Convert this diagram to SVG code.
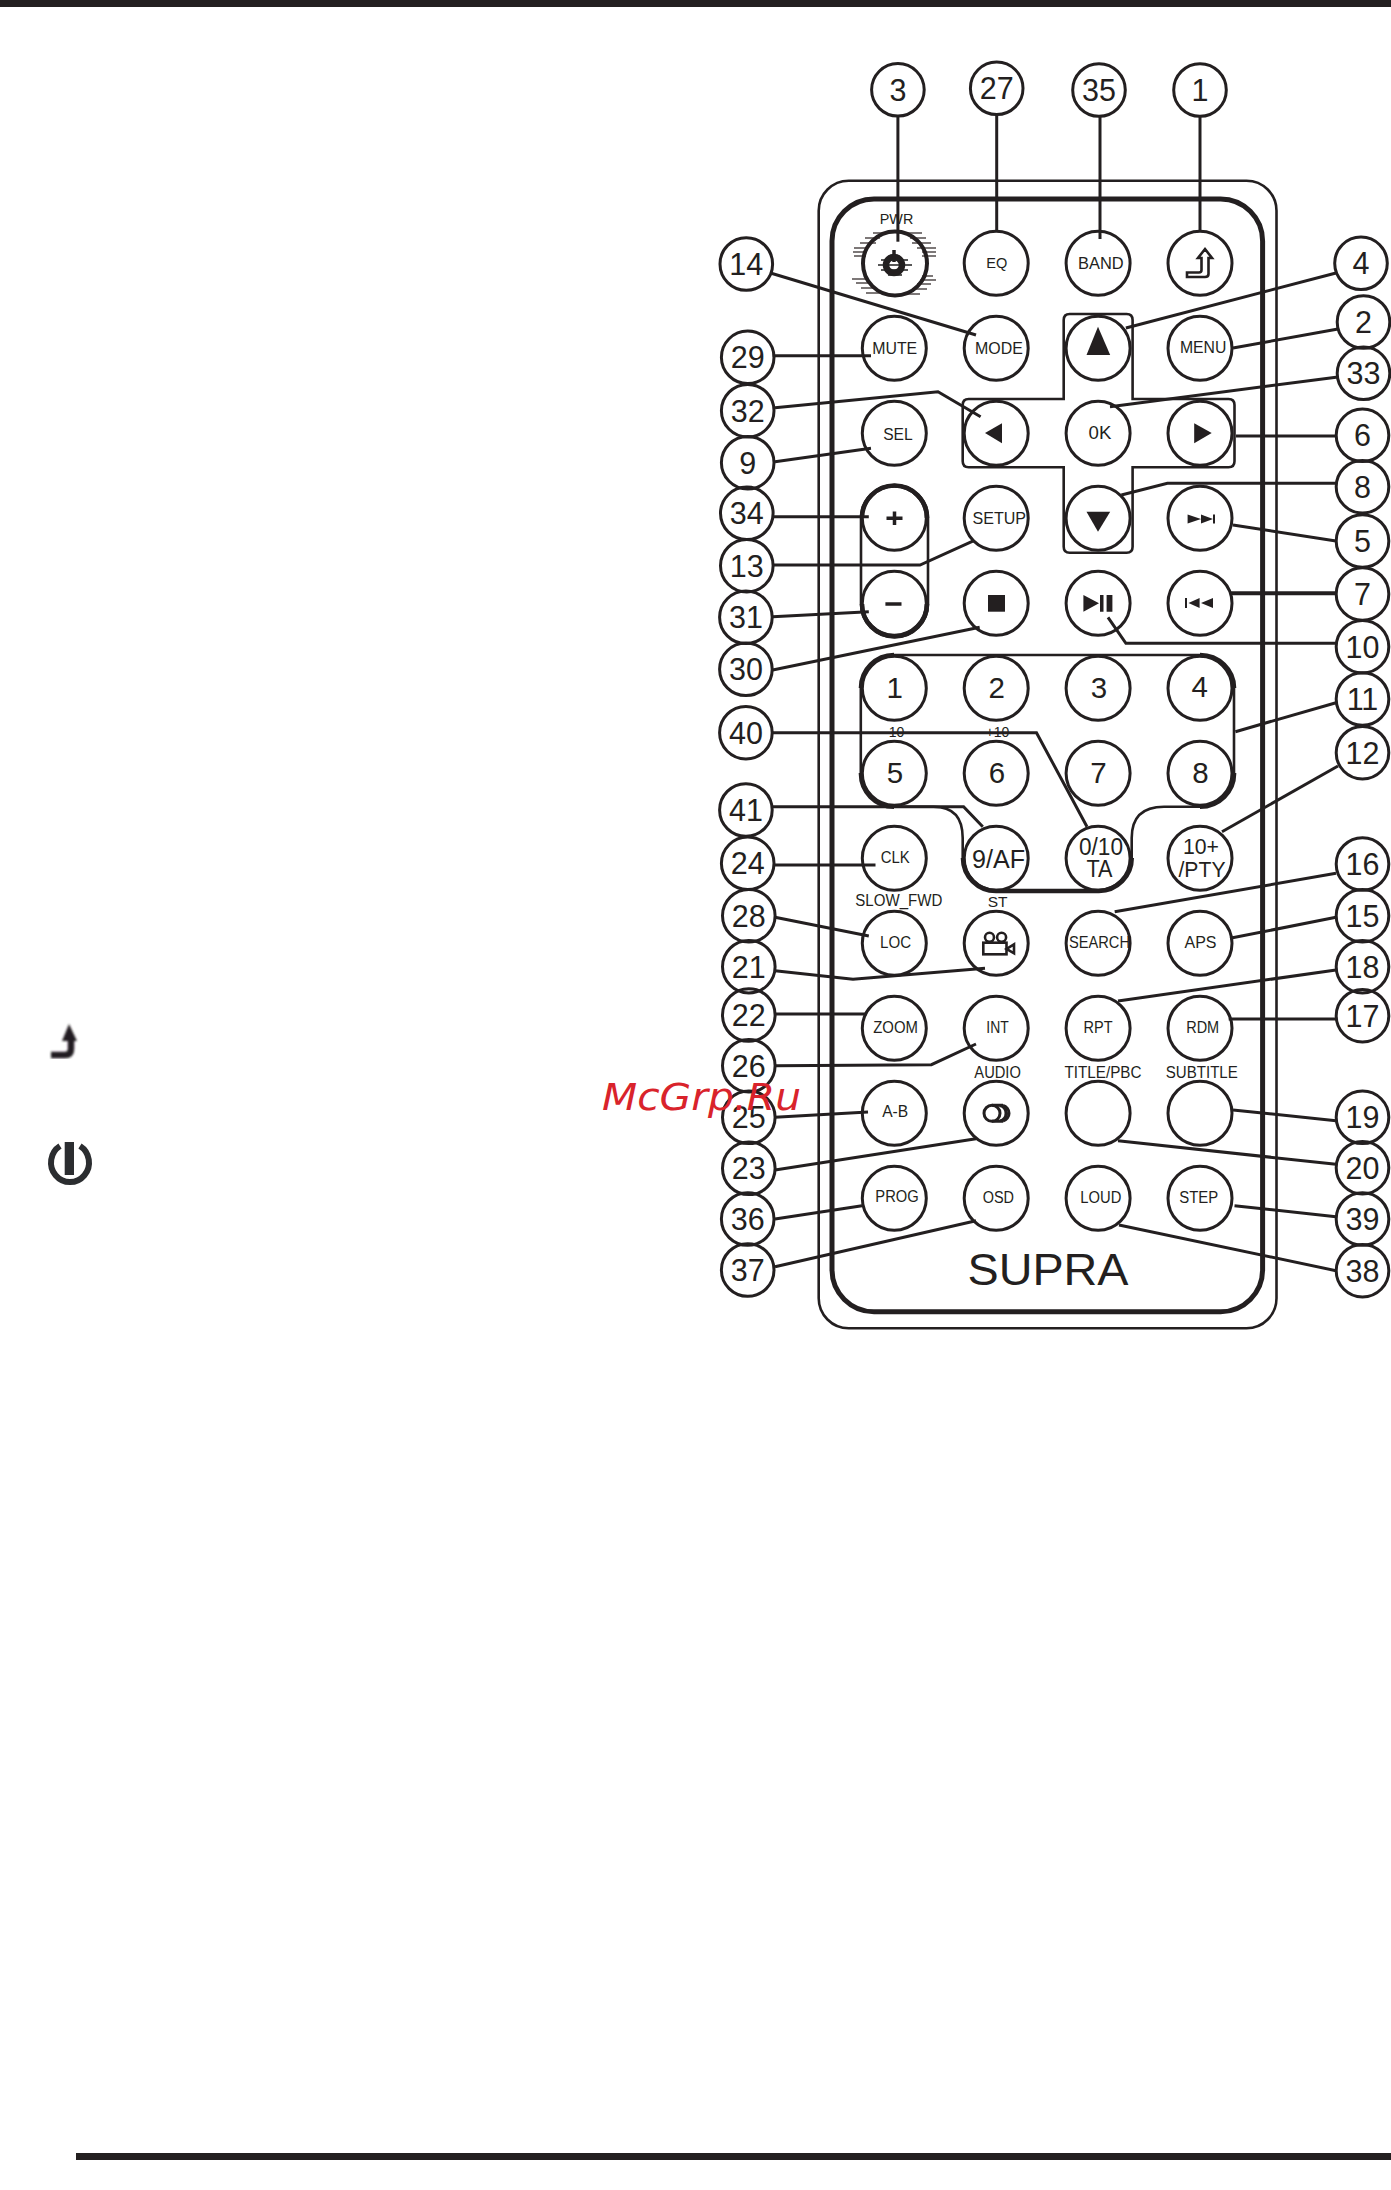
<svg xmlns="http://www.w3.org/2000/svg" width="1391" height="2190" viewBox="0 0 1391 2190">
<style>
text{font-family:"Liberation Sans",Arial,sans-serif;fill:#231f20;text-anchor:middle}
.o{fill:none;stroke:#231f20;stroke-width:3}
.b{fill:none;stroke:#231f20;stroke-width:3}
.t{fill:none;stroke:#231f20;stroke-width:2.6}
.k{fill:none;stroke:#231f20;stroke-width:4.6}
.c{font-size:30.500px}
.d{font-size:29.500px}
.f{fill:#231f20;stroke:none}
#connectors path{fill:none;stroke:#231f20;stroke-width:3}
</style>
<defs>
<circle id="btn" r="32" class="b"/>
<circle id="call" r="26.300" class="o"/>
<filter id="soft"><feGaussianBlur stdDeviation="0.9"/></filter>
<filter id="jag" x="-30%" y="-30%" width="160%" height="160%"><feGaussianBlur stdDeviation="0.5"/></filter>
</defs>
<rect id="top-bar" x="0" y="0" width="1391" height="7" fill="#231f20"/>
<rect id="bottom-bar" x="76" y="2153" width="1315" height="7" fill="#231f20"/>

<g id="side-arrow" filter="url(#soft)"><path d="M51 1055H65Q71 1055 71 1049V1040" fill="none" stroke="#231f20" stroke-width="6.500"/><path d="M69 1024L77 1041H62Z" fill="#231f20"/></g>
<g id="side-power"><path d="M60 1146A19 19.500 0 1 0 80 1146" fill="none" stroke="#2b2d30" stroke-width="6"/><rect x="64.700" y="1142" width="9.300" height="33" fill="#2b2d30"/></g>

<g id="body">
<rect x="818.700" y="180.700" width="457.800" height="1147.600" rx="30" class="t"/>
<rect x="832" y="199" width="430.600" height="1112.700" rx="42" fill="none" stroke="#231f20" stroke-width="5"/>
<text x="1048" y="1285" textLength="161" lengthAdjust="spacingAndGlyphs" style="font-size:44px">SUPRA</text>
</g>

<g id="dpad-outline"><path class="t" d="M1063.700 399V320q0-6 6-6H1126.600q6 0 6 6V399H1228.500q6 0 6 6V461.300q0 6-6 6H1132.600V546.700q0 6-6 6H1069.700q-6 0-6-6V467.300H968.700q-6 0-6-6V405q0-6 6-6Z"/></g>
<g id="volume-outline"><rect class="t" x="861" y="485" width="67" height="152" rx="33"/><path class="k" d="M862 518A32.500 32.500 0 0 1 927 518"/><path class="k" d="M862 604A32.500 32.500 0 0 0 927 604"/></g>
<g id="keypad-outline"><path class="t" d="M894 655H1200A34 33 0 0 1 1234 688V773A34 33 0 0 1 1200 806.700H1164Q1131.700 806.700 1131.700 838V858A33 33 0 0 1 1099 891H996A33 33 0 0 1 962.700 858V838Q962.700 806.700 933.600 806.700H894A33 33 0 0 1 860.800 773V688A33 33 0 0 1 894 655Z"/>
<path class="k" d="M861 688A33 33 0 0 1 894 655M1200 655A34 33 0 0 1 1234 688M1234 773A34 33 0 0 1 1200 806.700M894 806.700A33 33 0 0 1 861 773M963 858A33 33 0 0 0 996 891H1099A33 33 0 0 0 1131.700 858"/></g>

<g id="connectors">
<path d="M897.900 116V241.700"/><path d="M996.700 115V230"/><path d="M1100 116V239"/><path d="M1200 116V232"/>
<path d="M770.500 273L976 335"/><path d="M1336 273L1125.900 328"/><path d="M1338 329L1233 348"/>
<path d="M772.700 355.700H871"/><path d="M1338 377L1110 406.700"/><path d="M775 407.700L938 391.700L980.600 416.700"/>
<path d="M1236 436H1336"/><path d="M775 461.700L871 448.300"/><path d="M1336 483.300H1167.400L1121.400 495"/>
<path d="M772.700 516.700H868.800"/><path d="M1233 525L1336 541"/><path d="M772.700 565H920L973.900 540.700"/>
<path d="M772.700 616.700L868.800 611.700"/><path d="M1231 593.300H1336" style="stroke-width:4"/><path d="M1336 643.300H1125.900L1108 617.300"/>
<path d="M772.700 670L979.700 627.300"/><path d="M1336 702.700L1235.400 731.700"/><path d="M772.700 732.700H1036.500L1087 826.700"/>
<path d="M1338 766L1222 831.700"/><path d="M772.700 806.700H963.600L982.800 826.700"/><path d="M775 865H875.500"/>
<path d="M1336 873.300L1114.700 911.700"/><path d="M775 917.300L868.800 936"/><path d="M1336 917.300L1230 938.300"/>
<path d="M775 970.700L853 979.300L985 968.300"/><path d="M1336 970L1118 1001"/><path d="M775 1014H866.600"/>
<path d="M1228.700 1019H1336"/><path d="M775 1065.700L931.400 1064.700L976 1044"/><path d="M775 1117.300L868 1112"/>
<path d="M1233 1110L1336 1120.700"/><path d="M775 1170L976 1138.700"/><path d="M1118 1140.700L1336 1164.300"/>
<path d="M775 1219L862 1205.700"/><path d="M1234.500 1205.700L1336 1216.700"/><path d="M775 1266.700L976 1220.700"/><path d="M1119 1225L1336 1270.700"/>
</g>

<g id="btn-pwr"><text x="896.500" y="224" textLength="33.500" lengthAdjust="spacingAndGlyphs" style="font-size:15px">PWR</text>
<circle cx="895" cy="263.500" r="32" fill="none" stroke="#231f20" stroke-width="4"/>
<path filter="url(#jag)" d="M873 233H887M865 238H880M860 243H876M854 248H868M853 252H866M854 256H866M852 279H866M856 283H869M861 288H874M866 293H880M905 233H922M910 238H926M912 243H931M917 248H936M922 252H936M922 256H936M922 276H933M920 280H936M917 284H931M912 289H927M905 294H920" fill="none" stroke="#231f20" stroke-width="1.300" stroke-opacity=".8"/>
<circle cx="894" cy="265" r="8" fill="none" stroke="#231f20" stroke-width="6.500"/>
<path d="M894 250V262" fill="none" stroke="#231f20" stroke-width="3.500"/>
<path filter="url(#jag)" d="M881 260H908M878 265H912M881 270H908M888 275H902" fill="none" stroke="#231f20" stroke-width="1.500"/></g>
<g id="btn-eq"><use href="#btn" x="996.200" y="263.300"/><text x="996.700" y="268.300" textLength="21" lengthAdjust="spacingAndGlyphs" style="font-size:15.500px">EQ</text></g>
<g id="btn-band"><use href="#btn" x="1098.100" y="263.300"/><text x="1100.800" y="269.300" textLength="45.600" lengthAdjust="spacingAndGlyphs" style="font-size:17px">BAND</text></g>
<g id="btn-back"><use href="#btn" x="1200" y="263.300"/><path class="t" d="M1205 249L1212 258H1208.500V274Q1208.500 277 1205 277H1187V272.500H1199Q1201.500 272.500 1201.500 270V258H1198Z"/></g>

<g id="btn-mute"><use href="#btn" x="894.300" y="348.300"/><text x="894.700" y="354" textLength="45" lengthAdjust="spacingAndGlyphs" style="font-size:17px">MUTE</text></g>
<g id="btn-mode"><use href="#btn" x="996.200" y="348.300"/><text x="998.900" y="354" textLength="47.800" lengthAdjust="spacingAndGlyphs" style="font-size:17px">MODE</text></g>
<g id="btn-up"><use href="#btn" x="1098.100" y="348.300"/><path class="f" d="M1098 326.700L1110.200 355H1086.500Z"/></g>
<g id="btn-menu"><use href="#btn" x="1200" y="348.300"/><text x="1203.200" y="353.300" textLength="46.500" lengthAdjust="spacingAndGlyphs" style="font-size:17px">MENU</text></g>

<g id="btn-sel"><use href="#btn" x="894.300" y="433.300"/><text x="897.900" y="440" textLength="29.500" lengthAdjust="spacingAndGlyphs" style="font-size:16.500px">SEL</text></g>
<g id="btn-left"><use href="#btn" x="996.200" y="433.300"/><path class="f" d="M985 433L1002 423.300V443.300Z"/></g>
<g id="btn-ok"><use href="#btn" x="1098.100" y="433.300"/><text x="1100" y="439.300" textLength="22.800" lengthAdjust="spacingAndGlyphs" style="font-size:19px">0K</text></g>
<g id="btn-right"><use href="#btn" x="1200" y="433.300"/><path class="f" d="M1211.700 433L1194.200 423.300V443.300Z"/></g>

<g id="btn-plus"><use href="#btn" x="894.300" y="518.300"/><path d="M886.500 518.300H902.500M894.500 511.500V525" fill="none" stroke="#231f20" stroke-width="3.500"/></g>
<g id="btn-setup"><use href="#btn" x="996.200" y="518.300"/><text x="999.300" y="524" textLength="53.600" lengthAdjust="spacingAndGlyphs" style="font-size:17px">SETUP</text></g>
<g id="btn-down"><use href="#btn" x="1098.100" y="518.300"/><path class="f" d="M1086.500 511.700H1110.200L1098 531.700Z"/></g>
<g id="btn-next"><use href="#btn" x="1200" y="518.300"/><path class="f" d="M1187.600 514.500L1201 519L1187.600 523.500ZM1201 514.500L1213 519L1201 523.500ZM1213 514.500H1215V523.500H1213Z"/></g>

<g id="btn-minus"><use href="#btn" x="894.300" y="603.300"/><path d="M885.400 604H901.500" fill="none" stroke="#231f20" stroke-width="3.500"/></g>
<g id="btn-stop"><use href="#btn" x="996.200" y="603.300"/><rect class="f" x="988" y="595" width="17" height="16.700"/></g>
<g id="btn-play"><use href="#btn" x="1098.100" y="603.300"/><path class="f" d="M1083.400 595L1099 603.300L1083.400 611.700ZM1100 595H1103.500V611.700H1100ZM1106.600 595H1112.400V611.700H1106.600Z"/></g>
<g id="btn-prev"><use href="#btn" x="1200" y="603.300"/><path class="f" d="M1185 598H1187V608H1185ZM1199.600 598L1188.500 603L1199.600 608ZM1213 598L1201 603L1213 608Z"/></g>

<g id="btn-1"><use href="#btn" x="894.300" y="688.300"/><text class="d" x="894.700" y="698">1</text></g>
<g id="btn-2"><use href="#btn" x="996.200" y="688.300"/><text class="d" x="996.800" y="698">2</text></g>
<g id="btn-3"><use href="#btn" x="1098.100" y="688.300"/><text class="d" x="1099" y="698">3</text></g>
<g id="btn-4"><use href="#btn" x="1200" y="688.300"/><text class="d" x="1199.700" y="697">4</text></g>
<g id="btn-5"><text x="896.500" y="736.700" style="font-size:14px">10</text><use href="#btn" x="894.300" y="773.300"/><text class="d" x="895" y="783">5</text></g>
<g id="btn-6"><text x="997.500" y="736.700" style="font-size:14px">+10</text><use href="#btn" x="996.200" y="773.300"/><text class="d" x="997" y="783">6</text></g>
<g id="btn-7"><use href="#btn" x="1098.100" y="773.300"/><text class="d" x="1098.500" y="783">7</text></g>
<g id="btn-8"><use href="#btn" x="1200" y="773.300"/><text class="d" x="1200.500" y="783">8</text></g>

<g id="btn-clk"><use href="#btn" x="894.300" y="858.300"/><text x="895.200" y="862.700" textLength="29" lengthAdjust="spacingAndGlyphs" style="font-size:16px">CLK</text></g>
<g id="btn-9af"><use href="#btn" x="996.200" y="858.300"/><text x="998.500" y="867.700" textLength="53" lengthAdjust="spacingAndGlyphs" style="font-size:25px">9/AF</text></g>
<g id="btn-0ta"><use href="#btn" x="1098.100" y="858.300"/><text x="1101" y="855" textLength="44" lengthAdjust="spacingAndGlyphs" style="font-size:23px">0/10</text><text x="1099.500" y="877.300" textLength="26" lengthAdjust="spacingAndGlyphs" style="font-size:23px">TA</text></g>
<g id="btn-10pty"><use href="#btn" x="1200" y="858.300"/><text x="1201" y="854.300" textLength="36" lengthAdjust="spacingAndGlyphs" style="font-size:22.500px">10+</text><text x="1202" y="877.300" textLength="47" lengthAdjust="spacingAndGlyphs" style="font-size:22.500px">/PTY</text></g>

<g id="btn-loc"><text x="898.800" y="905.700" textLength="87" lengthAdjust="spacingAndGlyphs" style="font-size:16px">SLOW_FWD</text><use href="#btn" x="894.300" y="943.300"/><text x="895.600" y="947.700" textLength="31" lengthAdjust="spacingAndGlyphs" style="font-size:16px">LOC</text></g>
<g id="btn-st"><text x="997.600" y="906.700" style="font-size:15.500px">ST</text><use href="#btn" x="996.200" y="943.300"/>
<g class="t"><circle cx="989.500" cy="937.300" r="4.500"/><circle cx="1001.600" cy="937.300" r="4.500"/><rect x="983.300" y="942.700" width="23.200" height="11.600" fill="#fff"/><path d="M1014 944.300V953.300L1006.500 949Z"/></g></g>
<g id="btn-search"><use href="#btn" x="1098.100" y="943.300"/><text x="1099.500" y="947.700" textLength="61" lengthAdjust="spacingAndGlyphs" style="font-size:16.500px">SEARCH</text></g>
<g id="btn-aps"><use href="#btn" x="1200" y="943.300"/><text x="1200.500" y="948.300" textLength="32" lengthAdjust="spacingAndGlyphs" style="font-size:17px">APS</text></g>

<g id="btn-zoom"><use href="#btn" x="894.300" y="1028.300"/><text x="895.600" y="1032.700" textLength="44.700" lengthAdjust="spacingAndGlyphs" style="font-size:16.500px">ZOOM</text></g>
<g id="btn-int"><use href="#btn" x="996.200" y="1028.300"/><text x="997.500" y="1033.300" textLength="22.400" lengthAdjust="spacingAndGlyphs" style="font-size:16px">INT</text></g>
<g id="btn-rpt"><use href="#btn" x="1098.100" y="1028.300"/><text x="1098" y="1033.300" textLength="29" lengthAdjust="spacingAndGlyphs" style="font-size:16px">RPT</text></g>
<g id="btn-rdm"><use href="#btn" x="1200" y="1028.300"/><text x="1202.700" y="1033.300" textLength="33" lengthAdjust="spacingAndGlyphs" style="font-size:16.500px">RDM</text></g>

<g id="btn-ab"><use href="#btn" x="894.300" y="1113.300"/><text x="895.200" y="1117" textLength="26" lengthAdjust="spacingAndGlyphs" style="font-size:16px">A-B</text></g>
<g id="btn-audio"><text x="997.600" y="1077.700" textLength="46.500" lengthAdjust="spacingAndGlyphs" style="font-size:16px">AUDIO</text><use href="#btn" x="996.200" y="1113.300"/><path class="b" d="M1000 1105.500A8 8 0 0 1 1000 1121M1003 1105.500A8 8 0 0 1 1003 1121M992 1105.300H1003M992 1121.300H1003"/><circle class="b" cx="992" cy="1113.300" r="8"/></g>
<g id="btn-title"><text x="1103" y="1077.700" textLength="77" lengthAdjust="spacingAndGlyphs" style="font-size:16px">TITLE/PBC</text><use href="#btn" x="1098.100" y="1113.300"/></g>
<g id="btn-subtitle"><text x="1201.800" y="1077.700" textLength="72" lengthAdjust="spacingAndGlyphs" style="font-size:16px">SUBTITLE</text><use href="#btn" x="1200" y="1113.300"/></g>

<g id="btn-prog"><use href="#btn" x="894.300" y="1198.300"/><text x="897" y="1202" textLength="43.400" lengthAdjust="spacingAndGlyphs" style="font-size:16px">PROG</text></g>
<g id="btn-osd"><use href="#btn" x="996.200" y="1198.300"/><text x="998.400" y="1203" textLength="31.300" lengthAdjust="spacingAndGlyphs" style="font-size:16px">OSD</text></g>
<g id="btn-loud"><use href="#btn" x="1098.100" y="1198.300"/><text x="1100.800" y="1203" textLength="41" lengthAdjust="spacingAndGlyphs" style="font-size:16px">LOUD</text></g>
<g id="btn-step"><use href="#btn" x="1200" y="1198.300"/><text x="1198.700" y="1203" textLength="39" lengthAdjust="spacingAndGlyphs" style="font-size:16px">STEP</text></g>

<g id="n3"><use href="#call" x="897.900" y="89.800"/><text class="c" x="898" y="100.500">3</text></g>
<g id="n27"><use href="#call" x="996.700" y="88.300"/><text class="c" x="996.700" y="99">27</text></g>
<g id="n35"><use href="#call" x="1099" y="90"/><text class="c" x="1099" y="101">35</text></g>
<g id="n1"><use href="#call" x="1200" y="90"/><text class="c" x="1200" y="101">1</text></g>
<g id="n14"><use href="#call" x="746.300" y="264"/><text class="c" x="746.300" y="275">14</text></g>
<g id="n29"><use href="#call" x="747.700" y="357.300"/><text class="c" x="747.700" y="368">29</text></g>
<g id="n32"><use href="#call" x="747.700" y="410.700"/><text class="c" x="747.700" y="421.500">32</text></g>
<g id="n9"><use href="#call" x="747.700" y="462.700"/><text class="c" x="747.700" y="473.500">9</text></g>
<g id="n34"><use href="#call" x="746.800" y="513.300"/><text class="c" x="746.800" y="524">34</text></g>
<g id="n13"><use href="#call" x="746.800" y="565.700"/><text class="c" x="746.800" y="576.500">13</text></g>
<g id="n31"><use href="#call" x="745.900" y="617.300"/><text class="c" x="745.900" y="628">31</text></g>
<g id="n30"><use href="#call" x="745.900" y="669.300"/><text class="c" x="745.900" y="680">30</text></g>
<g id="n40"><use href="#call" x="745.900" y="732.700"/><text class="c" x="745.900" y="743.500">40</text></g>
<g id="n41"><use href="#call" x="745.900" y="810"/><text class="c" x="745.900" y="821">41</text></g>
<g id="n24"><use href="#call" x="747.700" y="863.300"/><text class="c" x="747.700" y="874">24</text></g>
<g id="n28"><use href="#call" x="748.800" y="915.700"/><text class="c" x="748.800" y="926.500">28</text></g>
<g id="n21"><use href="#call" x="748.800" y="966.700"/><text class="c" x="748.800" y="977.500">21</text></g>
<g id="n22"><use href="#call" x="748.800" y="1015"/><text class="c" x="748.800" y="1026">22</text></g>
<g id="n26"><use href="#call" x="748.800" y="1065.700"/><text class="c" x="748.800" y="1076.500">26</text></g>
<g id="n25"><use href="#call" x="748.800" y="1117.300"/><text class="c" x="748.800" y="1128">25</text></g>
<g id="n23"><use href="#call" x="748.800" y="1168.300"/><text class="c" x="748.800" y="1179">23</text></g>
<g id="n36"><use href="#call" x="747.700" y="1219"/><text class="c" x="747.700" y="1230">36</text></g>
<g id="n37"><use href="#call" x="747.700" y="1270"/><text class="c" x="747.700" y="1281">37</text></g>
<g id="n4"><use href="#call" x="1361" y="263.300"/><text class="c" x="1361" y="274">4</text></g>
<g id="n2"><use href="#call" x="1363.500" y="322"/><text class="c" x="1363.500" y="333">2</text></g>
<g id="n33"><use href="#call" x="1363.500" y="373.300"/><text class="c" x="1363.500" y="384">33</text></g>
<g id="n6"><use href="#call" x="1362.500" y="435.300"/><text class="c" x="1362.500" y="446">6</text></g>
<g id="n8"><use href="#call" x="1362.500" y="486.700"/><text class="c" x="1362.500" y="497.500">8</text></g>
<g id="n5"><use href="#call" x="1362.500" y="541"/><text class="c" x="1362.500" y="552">5</text></g>
<g id="n7"><use href="#call" x="1362.500" y="594"/><text class="c" x="1362.500" y="605">7</text></g>
<g id="n10"><use href="#call" x="1362.500" y="646.700"/><text class="c" x="1362.500" y="657.500">10</text></g>
<g id="n11"><use href="#call" x="1362.500" y="699"/><text class="c" x="1362.500" y="710">11</text></g>
<g id="n12"><use href="#call" x="1362.500" y="752.700"/><text class="c" x="1362.500" y="763.500">12</text></g>
<g id="n16"><use href="#call" x="1362.500" y="864"/><text class="c" x="1362.500" y="875">16</text></g>
<g id="n15"><use href="#call" x="1362.500" y="915.700"/><text class="c" x="1362.500" y="926.500">15</text></g>
<g id="n18"><use href="#call" x="1362.500" y="966.700"/><text class="c" x="1362.500" y="977.500">18</text></g>
<g id="n17"><use href="#call" x="1362.500" y="1015.700"/><text class="c" x="1362.500" y="1026.500">17</text></g>
<g id="n19"><use href="#call" x="1362.500" y="1117.300"/><text class="c" x="1362.500" y="1128">19</text></g>
<g id="n20"><use href="#call" x="1362.500" y="1167.700"/><text class="c" x="1362.500" y="1178.500">20</text></g>
<g id="n39"><use href="#call" x="1362.500" y="1219"/><text class="c" x="1362.500" y="1230">39</text></g>
<g id="n38"><use href="#call" x="1362.500" y="1270.700"/><text class="c" x="1362.500" y="1281.500">38</text></g>

<text id="watermark" x="602" y="1110" textLength="199" lengthAdjust="spacingAndGlyphs" style="font-family:'DejaVu Sans',sans-serif;font-style:italic;font-size:38px;fill:#d9232b;text-anchor:start">McGrp.Ru</text>
</svg>
